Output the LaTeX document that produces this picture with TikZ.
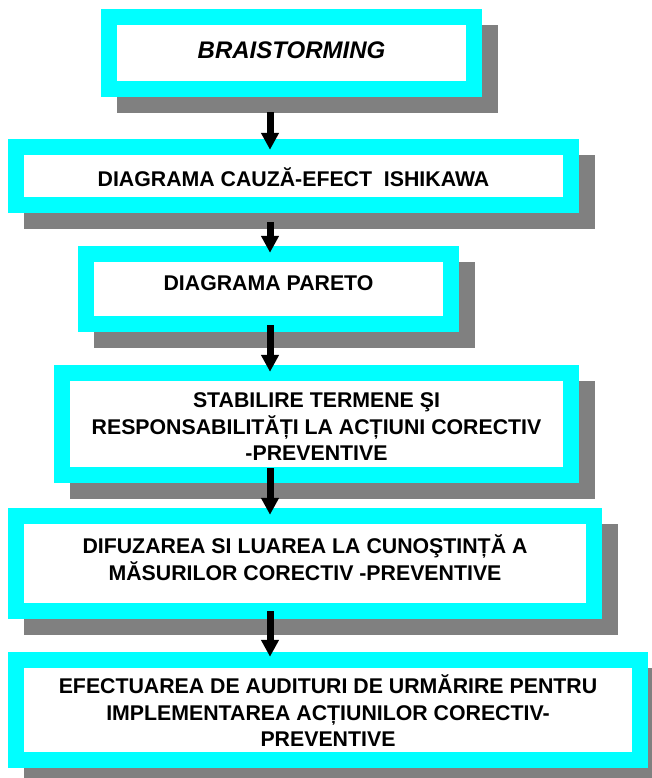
\documentclass[tikz,border=0pt]{standalone}
\usepackage{fontspec}
\setmainfont{Liberation Sans}
\usetikzlibrary{arrows.meta,shadows,calc}
\definecolor{framecyan}{HTML}{00FFFF}
\definecolor{shadowgray}{HTML}{808080}
\begin{document}
\begin{tikzpicture}[x=1pt,y=-1pt,
  flowbox/.style={rectangle, inner sep=0pt, fill=framecyan,
    general shadow={fill=shadowgray, shadow xshift=16pt, shadow yshift=-16pt},
    path picture={\fill[white]
      ([shift={(16pt,16pt)}]path picture bounding box.south west) rectangle
      ([shift={(-16pt,-16pt)}]path picture bounding box.north east);}},
  flowtext/.style={inner sep=0pt, align=center, text=black,
    font=\fontsize{21.3}{26.5}\selectfont\bfseries},
  flowarrow/.style={line width=7pt, draw=black,
    -{Triangle[width=17pt,length=17pt]}}]
\useasboundingbox (0,0) rectangle (652,778);
\clip (0,0) rectangle (652,778);
\coordinate (ax) at (270,0);

% step boxes (outer cyan frame, white inside, grey drop shadow)
\node[flowbox, minimum width=381pt, minimum height=88pt]  (b1) at (291.5,53)  {};
\node[flowbox, minimum width=571pt, minimum height=74pt]  (b2) at (293.5,176) {};
\node[flowbox, minimum width=381pt, minimum height=86pt]  (b3) at (268.5,289) {};
\node[flowbox, minimum width=525pt, minimum height=118pt] (b4) at (316.5,424) {};
\node[flowbox, minimum width=594pt, minimum height=111pt] (b5) at (305,563.5) {};
\node[flowbox, minimum width=640pt, minimum height=116pt] (b6) at (328,710)   {};

% step texts
\node[flowtext, font=\fontsize{24}{28}\selectfont\bfseries\itshape] (t1)
  at ($(b1.center)+(0,-3)$) {BRAISTORMING};
\node[flowtext] (t2) at ($(b2.center)+(0,1)$) {DIAGRAMA CAUZĂ-EFECT\ \ ISHIKAWA};
\node[flowtext] (t3) at ($(b3.center)+(0,-5.5)$) {DIAGRAMA PARETO};
\node[flowtext] (t4) at ($(b4.center)+(0,3)$) {STABILIRE TERMENE ŞI\\RESPONSABILITĂȚI LA ACȚIUNI CORECTIV\\-PREVENTIVE};
\node[flowtext] (t5) at ($(b5.center)+(0,-6)$) {DIFUZAREA SI LUAREA LA CUNOŞTINȚĂ A\\MĂSURILOR CORECTIV -PREVENTIVE};
\node[flowtext] (t6) at ($(b6.center)+(0,1)$) {EFECTUAREA DE AUDITURI DE URMĂRIRE PENTRU\\IMPLEMENTAREA ACȚIUNILOR CORECTIV-\\PREVENTIVE};

% connectors
\draw[flowarrow] ($(b1.south -| ax)+(0,15)$) -- ($(b2.north -| ax)+(0,11)$);
\draw[flowarrow] ($(b2.south -| ax)+(0,9)$)  -- ($(b3.north -| ax)+(0,7)$);
\draw[flowarrow] ($(b3.south -| ax)+(0,-7)$) -- ($(b4.north -| ax)+(0,7)$);
\draw[flowarrow] ($(b4.south -| ax)+(0,-15)$) -- ($(b5.north -| ax)+(0,7)$);
\draw[flowarrow] ($(b5.south -| ax)+(0,-8)$) -- ($(b6.north -| ax)+(0,5)$);
\end{tikzpicture}
\end{document}
